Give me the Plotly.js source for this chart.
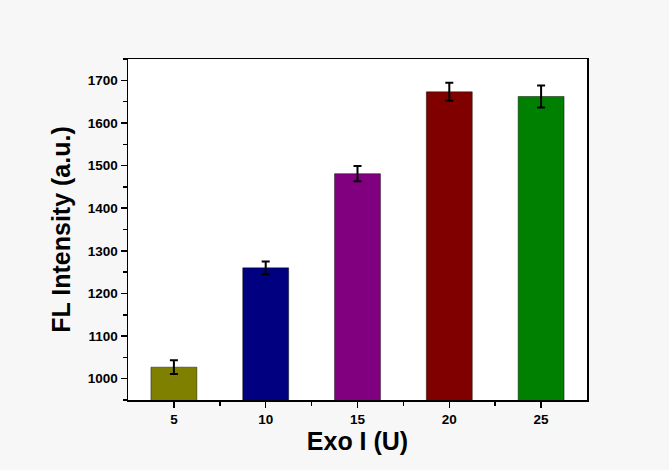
<!DOCTYPE html>
<html>
<head>
<meta charset="utf-8">
<script src="https://cdn.plot.ly/plotly-3.0.1.min.js"></script>
<style>html,body{margin:0;padding:0;background:#f7f7f7;}</style>
</head>
<body>
<div id="chart" style="width:669px;height:470px;"></div>
<script>
const exoUnits = [5, 10, 15, 20, 25];
const intensity = [1027, 1260, 1481, 1673, 1662];
const errors = [16, 15, 18, 21, 26];
const barColors = ['#808000', '#000080', '#800080', '#800000', '#008000'];

const trace = {
  type: 'bar',
  x: exoUnits,
  y: intensity,
  width: 2.5,
  marker: {color: barColors, line: {color: 'rgba(0,0,0,0.45)', width: 1}},
  error_y: {type: 'data', array: errors, visible: true, color: '#000', thickness: 2, width: 4}
};

const layout = {
  width: 669, height: 470,
  margin: {l: 128, r: 82, t: 59, b: 70},
  paper_bgcolor: '#f7f7f7',
  plot_bgcolor: '#ffffff',
  showlegend: false,
  font: {family: 'Liberation Sans, Arial, sans-serif', color: '#000'},
  xaxis: {
    range: [2.5, 27.5],
    tickvals: exoUnits,
    ticktext: exoUnits.map(String),
    ticks: 'outside', ticklen: 6, tickwidth: 1.5, tickcolor: '#000',
    minor: {tickvals: [7.5, 12.5, 17.5, 22.5], ticks: 'outside', ticklen: 4, tickwidth: 1.5, tickcolor: '#000'},
    showline: true, linewidth: 1.5, linecolor: '#000', mirror: true,
    showgrid: false, zeroline: false,
    tickfont: {size: 13.5, weight: 'bold'},
    title: {text: 'Exo I (U)', font: {size: 25, weight: 'bold'}, standoff: 6}
  },
  yaxis: {
    range: [950, 1750],
    tickvals: [1000, 1100, 1200, 1300, 1400, 1500, 1600, 1700],
    ticks: 'outside', ticklen: 6, tickwidth: 1.5, tickcolor: '#000',
    minor: {tickvals: [950, 1050, 1150, 1250, 1350, 1450, 1550, 1650, 1750], ticks: 'outside', ticklen: 4, tickwidth: 1.5, tickcolor: '#000'},
    showline: true, linewidth: 1.5, linecolor: '#000', mirror: true,
    showgrid: false, zeroline: false,
    tickfont: {size: 13.5, weight: 'bold'},
    title: {text: 'FL Intensity (a.u.)', font: {size: 25, weight: 'bold'}, standoff: 10}
  }
};

Plotly.newPlot('chart', [trace], layout, {displayModeBar: false, staticPlot: true});
</script>
</body>
</html>
